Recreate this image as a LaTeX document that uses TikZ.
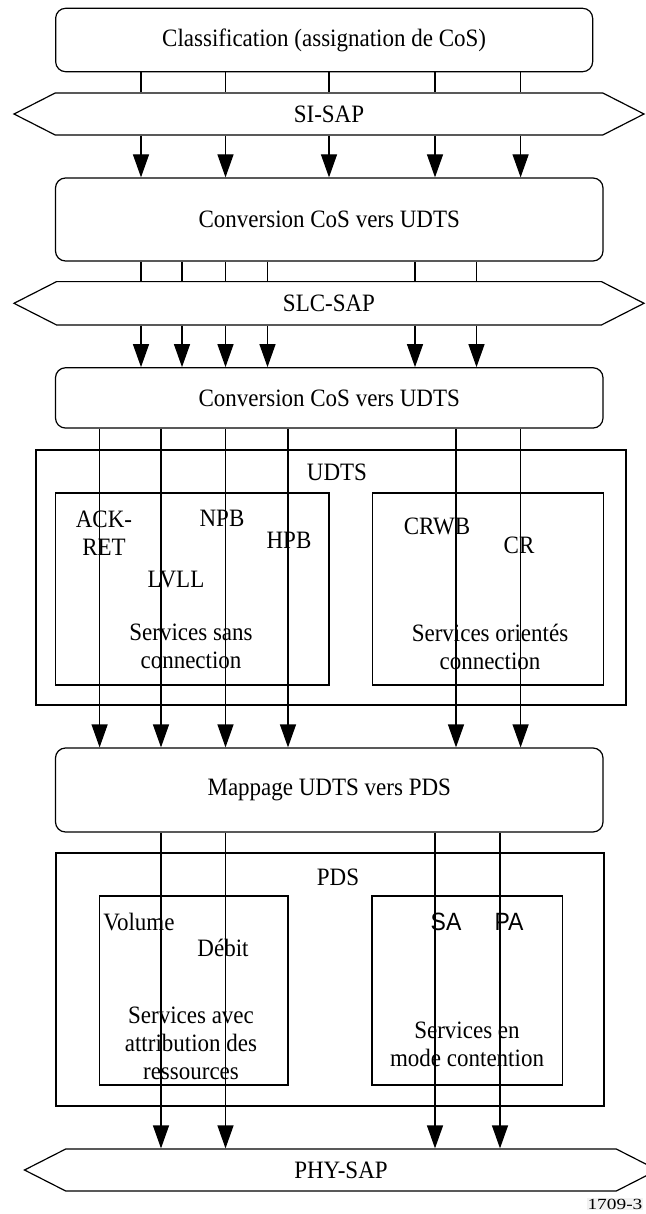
\documentclass[tikz,border=0pt]{standalone}
\usepackage{fontspec}
\setmainfont{Liberation Serif}[FakeStretch=0.92]
\newfontfamily\labelsans{Liberation Sans}[FakeStretch=0.92]
\newfontfamily\fignum{Liberation Serif}[FakeStretch=1.25]
\usetikzlibrary{arrows.meta,shapes.symbols}

\begin{document}
\begin{tikzpicture}[x=1pt, y=-1pt, line width=1.2pt,
	font=\fontsize{25}{28}\selectfont,
	procbox/.style={draw, rounded corners=10pt, minimum width=547.5pt, inner sep=0pt},
	sap/.style={draw, signal, signal to=west and east, signal pointer angle=54, minimum height=42pt, inner sep=0pt},
	svcbox/.style={draw, inner sep=0pt},
	txt/.style={inner sep=0pt, align=center},
	flow/.style={-{Triangle[length=23pt, width=16pt]}}]
	\useasboundingbox (0,0) rectangle (645,1214);

	\node at (324.15,40) [procbox, minimum width=537pt, minimum height=63.4pt] (cls) {Classification (assignation de CoS)};
	\node at (329,114) [sap, minimum width=630pt] (sisap) {SI-SAP};
	\node at (329.25,219.5) [procbox, minimum height=83pt] (conv1) {Conversion CoS vers UDTS};
	\node at (329,303.3) [sap, minimum width=630pt, minimum height=43.3pt] (slcsap) {SLC-SAP};
	\node at (329.25,397.9) [procbox, minimum height=60.3pt] (conv2) {Conversion CoS vers UDTS};

	\node at (331,577.5) [svcbox, minimum width=590pt, minimum height=255pt] (udts) {};
	\node at (192.25,589) [svcbox, minimum width=273.5pt, minimum height=192pt] (cless) {};
	\node at (488.05,589) [svcbox, minimum width=231.3pt, minimum height=192pt] (conn) {};
	\node at (337,472) [txt] (udtslbl) {UDTS};
	\node at (104,533) [txt] (ackret) {ACK-\\RET};
	\node at (222,518) [txt] (npb) {NPB};
	\node at (289,540) [txt] (hpb) {HPB};
	\node at (176,580) [txt] (lvll) {LVLL};
	\node at (437,526) [txt] (crwb) {CRWB};
	\node at (519,545) [txt] (cr) {CR};
	\node at (191,646.5) [txt] (clesslbl) {Services sans\\connection};
	\node at (490,646.5) [txt] (connlbl) {Services orientés\\connection};

	\node at (329.25,790) [procbox, minimum height=84pt] (map) {Mappage UDTS vers PDS};

	\node at (330,979.5) [svcbox, minimum width=548pt, minimum height=253pt] (pds) {};
	\node at (193.8,990.5) [svcbox, minimum width=188.4pt, minimum height=189pt] (alloc) {};
	\node at (467.25,990.5) [svcbox, minimum width=190.5pt, minimum height=189pt] (cont) {};
	\node at (338,877) [txt] (pdslbl) {PDS};
	\node at (139,922) [txt] (vol) {Volume};
	\node at (223,948) [txt] (deb) {Débit};
	\node at (446,922) [txt, font=\labelsans\fontsize{25}{28}\selectfont] (sa) {SA};
	\node at (509,922) [txt, font=\labelsans\fontsize{25}{28}\selectfont] (pa) {PA};
	\node at (191,1043) [txt] (alloclbl) {Services avec\\attribution des\\ressources};
	\node at (467,1044) [txt] (contlbl) {Services en\\mode contention};

	\node at (341,1170) [sap, minimum width=633pt] (physap) {PHY-SAP};
	\node at (644,1204) [anchor=east, inner sep=1pt, fill=gray!10, font=\fignum\fontsize{15.5}{18}\selectfont] (fig) {1709-3};

	% columns
	\coordinate (a1) at (141,0);
	\coordinate (a2) at (225.5,0);
	\coordinate (a3) at (329,0);
	\coordinate (a4) at (435,0);
	\coordinate (a5) at (520.6,0);
	\coordinate (b1) at (141,0);
	\coordinate (b2) at (182,0);
	\coordinate (b3) at (225.5,0);
	\coordinate (b4) at (267.5,0);
	\coordinate (b5) at (415,0);
	\coordinate (b6) at (476.5,0);
	\coordinate (c1) at (99.6,0);
	\coordinate (c2) at (161,0);
	\coordinate (c3) at (225.5,0);
	\coordinate (c4) at (288,0);
	\coordinate (c5) at (456,0);
	\coordinate (c6) at (520.6,0);
	\coordinate (d1) at (161,0);
	\coordinate (d2) at (225.5,0);
	\coordinate (d3) at (435,0);
	\coordinate (d4) at (500,0);

	\draw (a1 |- cls.south) -- (a1 |- sisap.north);
	\draw (a2 |- cls.south) -- (a2 |- sisap.north);
	\draw (a3 |- cls.south) -- (a3 |- sisap.north);
	\draw (a4 |- cls.south) -- (a4 |- sisap.north);
	\draw (a5 |- cls.south) -- (a5 |- sisap.north);
	\draw [flow] (a1 |- sisap.south) -- (a1 |- conv1.north);
	\draw [flow] (a2 |- sisap.south) -- (a2 |- conv1.north);
	\draw [flow] (a3 |- sisap.south) -- (a3 |- conv1.north);
	\draw [flow] (a4 |- sisap.south) -- (a4 |- conv1.north);
	\draw [flow] (a5 |- sisap.south) -- (a5 |- conv1.north);

	\draw (b1 |- conv1.south) -- (b1 |- slcsap.north);
	\draw (b2 |- conv1.south) -- (b2 |- slcsap.north);
	\draw (b3 |- conv1.south) -- (b3 |- slcsap.north);
	\draw (b4 |- conv1.south) -- (b4 |- slcsap.north);
	\draw (b5 |- conv1.south) -- (b5 |- slcsap.north);
	\draw (b6 |- conv1.south) -- (b6 |- slcsap.north);
	\draw [flow] (b1 |- slcsap.south) -- (b1 |- conv2.north);
	\draw [flow] (b2 |- slcsap.south) -- (b2 |- conv2.north);
	\draw [flow] (b3 |- slcsap.south) -- (b3 |- conv2.north);
	\draw [flow] (b4 |- slcsap.south) -- (b4 |- conv2.north);
	\draw [flow] (b5 |- slcsap.south) -- (b5 |- conv2.north);
	\draw [flow] (b6 |- slcsap.south) -- (b6 |- conv2.north);

	\draw [flow] (c1 |- conv2.south) -- (c1 |- map.north);
	\draw [flow] (c2 |- conv2.south) -- (c2 |- map.north);
	\draw [flow] (c3 |- conv2.south) -- (c3 |- map.north);
	\draw [flow] (c4 |- conv2.south) -- (c4 |- map.north);
	\draw [flow] (c5 |- conv2.south) -- (c5 |- map.north);
	\draw [flow] (c6 |- conv2.south) -- (c6 |- map.north);

	\draw [flow] (d1 |- map.south) -- (d1 |- physap.north);
	\draw [flow] (d2 |- map.south) -- (d2 |- physap.north);
	\draw [flow] (d3 |- map.south) -- (d3 |- physap.north);
	\draw [flow] (d4 |- map.south) -- (d4 |- physap.north);
\end{tikzpicture}
\end{document}
